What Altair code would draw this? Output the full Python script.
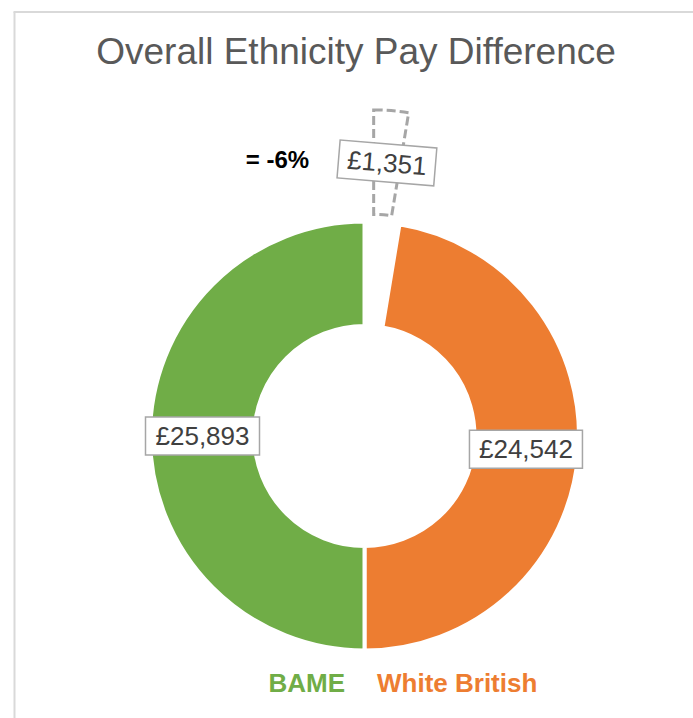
import altair as alt
import pandas as pd

# ---- data ----
categories = ["Difference", "White British", "BAME"]
values = [1351, 24542, 25893]
legend_labels = ["BAME", "White British"]
title_text = "Overall Ethnicity Pay Difference"

pct = round((values[1] - values[2]) / values[1] * 100)
annotation = f"= {pct}%"

# ---- styles / layout ----
palette_domain = ["White British", "BAME"]
palette_range = ["#ED7D31", "#70AD47"]
FONT = "Liberation Sans"
W, H = 693, 718
CX, CY = 364.5, 436
R_OUT, R_IN = 214.5, 110
EXPLODE = 112
R_LABEL = 162
BOX_H = 38
box_widths = {"Difference": 97, "White British": 113, "BAME": 114}


def box_path(w, h):
    a = w / 114
    b = h / 114
    return f"M{-a:.4f},{-b:.4f}L{a:.4f},{-b:.4f}L{a:.4f},{b:.4f}L{-a:.4f},{b:.4f}Z"


df = pd.DataFrame({"cat": categories, "value": values, "idx": list(range(len(categories)))})

xs = alt.Scale(domain=[-CX, W - CX], nice=False, zero=False)
ys = alt.Scale(domain=[CY - H, CY], nice=False, zero=False)

base = (
    alt.Chart(df)
    .transform_joinaggregate(total="sum(value)")
    .transform_window(cum="sum(value)", sort=[alt.SortField("idx")], frame=[None, 0])
    .transform_calculate(a1="2*PI*datum.cum/datum.total")
    .transform_calculate(a0="2*PI*(datum.cum-datum.value)/datum.total")
    .transform_calculate(mid="(datum.a0+datum.a1)/2")
    .transform_calculate(ex=f"datum.cat == 'Difference' ? {EXPLODE} : 0")
    .transform_calculate(cx="datum.ex*sin(datum.mid)")
    .transform_calculate(cy="datum.ex*cos(datum.mid)")
    .transform_calculate(ang="datum.cat == 'Difference' ? datum.mid*180/PI : 0")
    .transform_calculate(label="'£' + format(datum.value, ',')")
    .transform_calculate(lx=f"datum.cx + {R_LABEL}*sin(datum.mid)")
    .transform_calculate(ly=f"datum.cy + {R_LABEL}*cos(datum.mid)")
)

xenc = alt.X("cx:Q", scale=xs, axis=None)
yenc = alt.Y("cy:Q", scale=ys, axis=None)

arcs = (
    base.transform_filter("datum.cat != 'Difference'")
    .mark_arc(outerRadius=R_OUT, innerRadius=R_IN, stroke="white", strokeWidth=4)
    .encode(
        x=xenc,
        y=yenc,
        theta=alt.Theta("a0:Q", scale=None),
        theta2="a1:Q",
        color=alt.Color(
            "cat:N",
            scale=alt.Scale(domain=palette_domain, range=palette_range),
            legend=None,
        ),
    )
)

gap = (
    base.transform_filter("datum.cat == 'Difference'")
    .mark_arc(
        outerRadius=R_OUT,
        innerRadius=R_IN,
        fill="white",
        fillOpacity=0,
        stroke="#a6a6a6",
        strokeWidth=3,
        strokeDash=[9, 4],
    )
    .encode(
        x=xenc,
        y=yenc,
        theta=alt.Theta("a0:Q", scale=None),
        theta2="a1:Q",
    )
)

boxes = base.mark_point(
    filled=True,
    fill="white",
    fillOpacity=1,
    stroke="#a6a6a6",
    strokeWidth=1.5,
    strokeOpacity=1,
    opacity=1,
    size=114 * 114,
).encode(
    x=alt.X("lx:Q", scale=xs, axis=None),
    y=alt.Y("ly:Q", scale=ys, axis=None),
    shape=alt.Shape(
        "cat:N",
        scale=alt.Scale(
            domain=categories,
            range=[box_path(box_widths[c], BOX_H) for c in categories],
        ),
        legend=None,
    ),
    angle=alt.Angle("ang:Q", scale=None),
)

labels = base.mark_text(
    font=FONT, fontSize=26, color="#404040", align="center", baseline="middle", dy=1
).encode(
    x=alt.X("lx:Q", scale=xs, axis=None),
    y=alt.Y("ly:Q", scale=ys, axis=None),
    text="label:N",
    angle=alt.Angle("ang:Q", scale=None),
)

one = pd.DataFrame({"k": [0]})

title = alt.Chart(one).mark_text(
    text=title_text, font=FONT, fontSize=37, color="#595959", align="center", baseline="alphabetic"
).encode(x=alt.value(356), y=alt.value(64))

annot = alt.Chart(one).mark_text(
    text=annotation, font=FONT, fontSize=24, fontWeight="bold", color="#000000",
    align="center", baseline="alphabetic"
).encode(x=alt.value(277.5), y=alt.value(168))

leg1 = alt.Chart(one).mark_text(
    text=legend_labels[0], font=FONT, fontSize=26, fontWeight="bold", color=palette_range[1],
    align="right", baseline="alphabetic"
).encode(x=alt.value(345), y=alt.value(692))

leg2 = alt.Chart(one).mark_text(
    text=legend_labels[1], font=FONT, fontSize=26, fontWeight="bold", color=palette_range[0],
    align="left", baseline="alphabetic"
).encode(x=alt.value(377), y=alt.value(692))

frame_left = alt.Chart(one).mark_rule(color="#d9d9d9", strokeWidth=2).encode(
    x=alt.value(14.5), y=alt.value(12), y2=alt.value(H)
)
frame_top = alt.Chart(one).mark_rule(color="#d9d9d9", strokeWidth=2).encode(
    x=alt.value(13.5), x2=alt.value(W), y=alt.value(12)
)

chart = (
    alt.layer(frame_left, frame_top, arcs, gap, boxes, labels, title, annot, leg1, leg2)
    .properties(width=W, height=H, autosize=alt.AutoSizeParams(type="none"), padding=0, background="white")
    .configure_view(stroke=None)
)

chart.save("out.html", embed_options={"renderer": "svg", "actions": False})
